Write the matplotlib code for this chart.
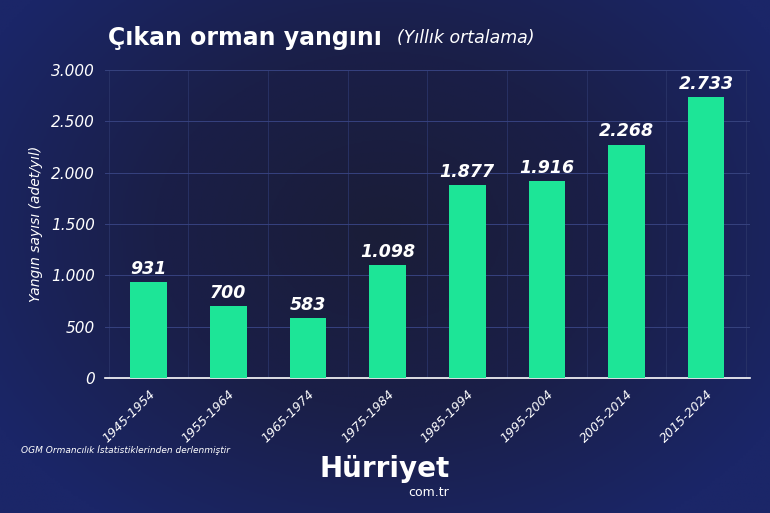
import numpy as np
import matplotlib
matplotlib.use("Agg")
import matplotlib.pyplot as plt
from matplotlib.colors import LinearSegmentedColormap

periods = ['1945-1954', '1955-1964', '1965-1974', '1975-1984',
           '1985-1994', '1995-2004', '2005-2014', '2015-2024']
fires = [931, 700, 583, 1098, 1877, 1916, 2268, 2733]
yticks = [0, 500, 1000, 1500, 2000, 2500, 3000]


def fmt(v):
    return f"{v:,}".replace(",", ".")


fig = plt.figure(figsize=(7.7, 5.13), dpi=100)

# background: dark navy center, bluer towards the edges
bg = fig.add_axes([0, 0, 1, 1])
yy, xx = np.mgrid[0:1:200j, 0:1:300j]
r = np.sqrt(((xx - 0.5) / 0.6) ** 2 + ((yy - 0.45) / 0.7) ** 2)
cmap = LinearSegmentedColormap.from_list('bg', ['#1a1d38', '#1a1f48', '#1b2668'])
bg.imshow(np.clip(r, 0, 1), cmap=cmap, aspect='auto', extent=[0, 1, 0, 1])
bg.axis('off')

ax = fig.add_axes([0.136, 0.263, 0.838, 0.601])
ax.set_facecolor('none')
x = np.arange(len(periods))
ax.bar(x, fires, width=0.46, color='#1de597', zorder=3)
for xi, v in zip(x, fires):
    ax.text(xi, v + 45, fmt(v), ha='center', va='bottom', color='white',
            fontsize=12.5, fontweight='bold', style='italic')

ax.set_xlim(-0.55, 7.55)
ax.set_ylim(0, 3000)
ax.set_yticks(yticks)
ax.set_yticklabels([fmt(t) for t in yticks], color='white', fontsize=11, style='italic')
ax.set_xticks(x)
ax.set_xticklabels(periods, rotation=45, ha='right', rotation_mode='anchor',
                   color='white', fontsize=9, style='italic')
ax.tick_params(length=0, pad=7)
ax.set_xticks(np.arange(-0.5, 8, 0.5), minor=True)
ax.tick_params(which='minor', length=0)
ax.grid(axis='y', color='#36427f', linewidth=0.7, zorder=0)
ax.grid(axis='x', which='minor', color='#2a3468', linewidth=0.6, zorder=0)
for s in ['top', 'right', 'left']:
    ax.spines[s].set_visible(False)
ax.spines['bottom'].set_color('white')
ax.spines['bottom'].set_linewidth(1.2)
ax.set_ylabel('Yangın sayısı (adet/yıl)', color='white', fontsize=10, style='italic', labelpad=6)

fig.text(0.14, 0.925, 'Çıkan orman yangını', color='white', fontsize=17,
         fontweight='bold', va='center')
fig.text(0.515, 0.925, '(Yıllık ortalama)', color='white', fontsize=12.5,
         style='italic', va='center')
fig.text(0.027, 0.122, 'OGM Ormancılık İstatistiklerinden derlenmiştir', color='white',
         fontsize=6.5, style='italic', va='center')
fig.text(0.5, 0.085, 'Hürriyet', color='white', fontsize=20, fontweight='bold',
         ha='center', va='center', family='Liberation Sans Narrow')
fig.text(0.583, 0.04, 'com.tr', color='white', fontsize=9, ha='right', va='center')

fig.savefig('out.png', dpi=100)
